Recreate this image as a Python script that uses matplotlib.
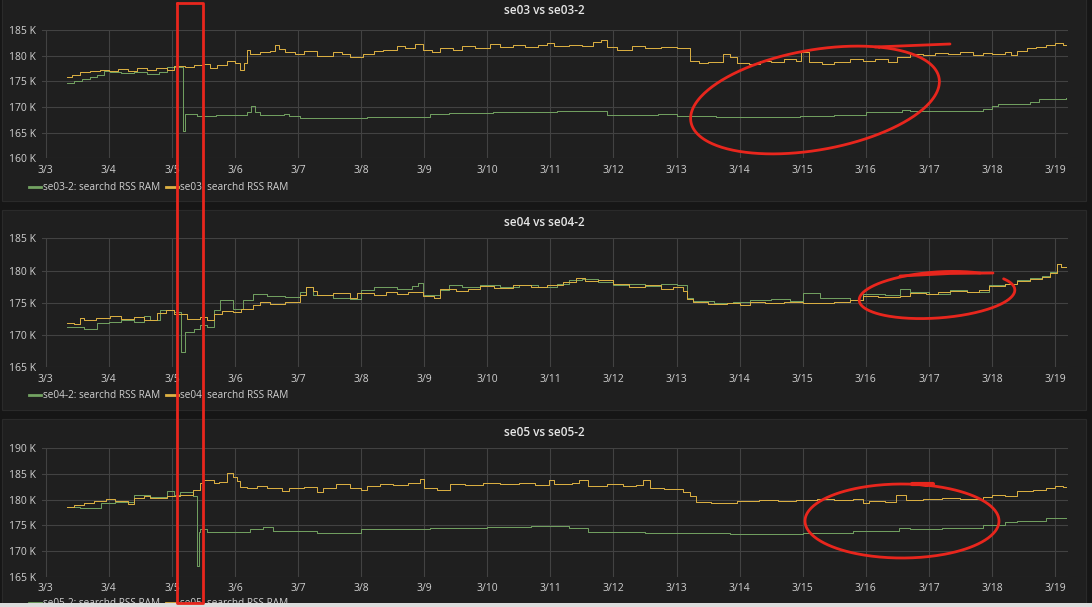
import numpy as np
import matplotlib
matplotlib.use("Agg")
import matplotlib.pyplot as plt
from matplotlib.patches import Rectangle
from matplotlib.lines import Line2D
from matplotlib.ticker import FuncFormatter

plt.rcParams['font.family'] = ['Open Sans', 'DejaVu Sans']

W, H = 1092, 607
GREEN = '#73a362'
YELLOW = '#deb243'
RED = '#e8261d'
TEXT = '#d0d0d0'

# x axis: days since 3/3 00:00
day_ticks = list(range(17))
day_labels = ["3/3", "3/4", "3/5", "3/6", "3/7", "3/8", "3/9", "3/10", "3/11",
              "3/12", "3/13", "3/14", "3/15", "3/16", "3/17", "3/18", "3/19"]

# (day, value in K) step change points
se03 = [(0.33, 175.8), (0.42, 176.3), (0.55, 176.9), (0.70, 177.1), (0.86, 177.3), (1.00, 177.0),
        (1.15, 177.4), (1.30, 177.1), (1.45, 177.5), (1.60, 177.2), (1.75, 177.6), (1.92, 177.3),
        (2.03, 178.0), (2.20, 177.7), (2.35, 178.1), (2.50, 178.3), (2.60, 177.6), (2.72, 178.2),
        (2.87, 178.9), (3.00, 178.6), (3.08, 177.3), (3.15, 178.5), (3.19, 181.2), (3.24, 180.4),
        (3.40, 180.7), (3.55, 181.0), (3.63, 182.0), (3.70, 181.3), (3.80, 180.8), (3.95, 180.4),
        (4.10, 180.9), (4.30, 179.9), (4.56, 180.7), (4.70, 180.3), (4.82, 179.7), (5.03, 180.4),
        (5.20, 180.9), (5.35, 181.2), (5.57, 181.8), (5.70, 181.4), (5.85, 182.2), (5.98, 181.1),
        (6.12, 180.7), (6.25, 181.5), (6.45, 181.2), (6.60, 181.8), (6.80, 181.4), (7.04, 182.3),
        (7.20, 181.7), (7.40, 182.1), (7.60, 181.6), (7.80, 182.0), (7.94, 182.5), (8.05, 181.8),
        (8.30, 182.1), (8.50, 181.8), (8.68, 182.6), (8.80, 183.1), (8.90, 181.7), (9.05, 181.2),
        (9.30, 181.8), (9.50, 181.4), (9.75, 181.7), (10.00, 181.5), (10.21, 178.9), (10.35, 178.5),
        (10.50, 178.8), (10.73, 180.4), (10.85, 179.8), (10.95, 178.6), (11.15, 178.3), (11.32, 179.0),
        (11.50, 178.8), (11.70, 179.3), (11.90, 179.0), (11.98, 180.8), (12.10, 178.8), (12.30, 178.4),
        (12.50, 178.7), (12.75, 179.3), (12.95, 178.9), (13.15, 179.4), (13.35, 178.8), (13.49, 179.8),
        (13.70, 180.4), (13.90, 180.1), (14.10, 180.6), (14.30, 180.3), (14.50, 180.7), (14.70, 180.2),
        (14.85, 180.6), (15.00, 180.4), (15.20, 180.7), (15.30, 180.1), (15.40, 181.0), (15.55, 181.4),
        (15.70, 181.7), (15.85, 182.0), (16.00, 182.5), (16.12, 182.1), (16.17, 182.1)]

se03_2 = [(0.33, 174.6), (0.45, 175.0), (0.58, 175.5), (0.70, 175.9), (0.82, 176.2), (0.92, 177.0),
          (1.02, 176.9), (1.20, 176.6), (1.40, 176.8), (1.60, 176.5), (1.80, 176.9), (1.92, 177.7),
          (2.17, 165.3), (2.21, 168.6), (2.40, 168.3), (2.70, 168.4), (3.00, 168.5), (3.19, 169.0),
          (3.25, 170.1), (3.32, 169.0), (3.40, 168.4), (3.77, 168.6), (3.85, 168.2), (4.03, 167.9),
          (5.10, 168.1), (6.09, 168.6), (6.40, 168.8), (7.09, 169.1), (8.10, 169.3), (8.58, 169.2),
          (8.90, 168.5), (9.30, 168.4), (9.70, 168.6), (10.00, 168.3), (10.63, 168.1), (11.95, 168.3),
          (12.50, 168.5), (13.00, 169.0), (13.58, 169.5), (13.70, 169.3), (14.85, 169.6), (15.00, 170.1),
          (15.10, 170.6), (15.60, 170.9), (15.75, 171.5), (16.17, 171.7)]

se04 = [(0.33, 171.9), (0.45, 171.7), (0.55, 172.6), (0.60, 172.3), (0.80, 172.6), (1.02, 172.9),
        (1.20, 172.5), (1.40, 172.8), (1.55, 172.4), (1.76, 173.4), (1.90, 173.9), (2.03, 173.2),
        (2.24, 172.5), (2.45, 172.8), (2.55, 172.4), (2.66, 173.2), (2.80, 173.8), (2.97, 173.6),
        (3.10, 174.0), (3.29, 174.6), (3.40, 175.1), (3.55, 174.8), (3.80, 175.1), (4.03, 176.2),
        (4.13, 177.4), (4.24, 176.8), (4.30, 176.2), (4.56, 176.5), (4.82, 175.7), (4.93, 176.5),
        (5.20, 176.2), (5.40, 176.6), (5.57, 176.3), (5.75, 176.7), (5.98, 176.0), (6.15, 175.8),
        (6.25, 177.2), (6.50, 176.9), (6.70, 177.2), (6.88, 177.6), (7.10, 177.3), (7.40, 177.7),
        (7.70, 177.4), (7.95, 177.7), (8.20, 178.2), (8.40, 178.9), (8.55, 178.4), (8.75, 178.6),
        (9.00, 177.9), (9.25, 177.5), (9.50, 177.8), (9.75, 177.2), (9.95, 177.4), (10.10, 176.9),
        (10.16, 175.6), (10.26, 175.2), (10.50, 174.8), (10.80, 175.0), (11.00, 174.7), (11.16, 175.1),
        (11.40, 174.9), (11.70, 175.2), (12.00, 175.0), (12.27, 175.0), (12.50, 175.1), (12.75, 175.5),
        (12.95, 176.1), (13.20, 175.9), (13.54, 176.0), (13.70, 176.5), (13.95, 176.3), (14.15, 176.6),
        (14.33, 176.9), (14.60, 176.6), (14.80, 177.0), (14.96, 177.6), (15.20, 177.9), (15.39, 178.4),
        (15.60, 178.7), (15.80, 179.0), (15.92, 179.6), (16.03, 181.0), (16.10, 180.6), (16.17, 180.6)]

se04_2 = [(0.33, 171.3), (0.60, 170.9), (0.82, 171.8), (1.00, 172.0), (1.20, 172.4), (1.40, 172.1),
          (1.55, 172.9), (1.65, 172.3), (1.81, 173.9), (2.03, 173.5), (2.15, 167.4), (2.21, 170.5),
          (2.35, 171.0), (2.45, 171.6), (2.55, 171.2), (2.66, 173.9), (2.77, 175.4), (2.97, 174.0),
          (3.13, 175.4), (3.29, 176.4), (3.50, 176.0), (3.80, 175.9), (4.03, 176.6), (4.13, 177.5),
          (4.24, 176.2), (4.56, 175.8), (4.82, 175.6), (4.99, 177.0), (5.20, 177.4), (5.35, 177.5),
          (5.57, 177.2), (5.80, 177.6), (5.90, 178.0), (5.98, 176.2), (6.25, 177.0), (6.40, 177.7),
          (6.60, 177.4), (6.88, 177.7), (7.20, 177.4), (7.50, 177.8), (7.80, 177.5), (8.10, 177.9),
          (8.30, 178.5), (8.50, 178.7), (8.75, 178.3), (9.00, 177.8), (9.25, 177.9), (9.50, 177.6),
          (9.75, 177.9), (10.00, 177.8), (10.16, 175.7), (10.26, 175.3), (10.60, 174.9), (10.90, 175.2),
          (11.16, 175.4), (11.50, 175.6), (11.80, 175.3), (12.00, 176.5), (12.27, 175.8), (12.75, 175.5),
          (12.95, 176.4), (13.30, 176.2), (13.54, 177.1), (13.70, 176.6), (14.00, 176.4), (14.33, 177.0),
          (14.60, 176.7), (14.96, 177.8), (15.20, 177.9), (15.39, 178.5), (15.60, 178.8), (15.80, 179.1),
          (15.92, 179.7), (16.03, 181.0), (16.10, 180.6), (16.17, 180.6)]

se05 = [(0.33, 178.6), (0.45, 179.0), (0.60, 179.3), (0.77, 179.8), (0.95, 180.1), (1.10, 179.8),
        (1.30, 179.1), (1.40, 180.3), (1.55, 180.7), (1.65, 180.3), (1.92, 180.8), (2.13, 181.0),
        (2.34, 181.9), (2.45, 183.2), (2.50, 183.8), (2.66, 183.2), (2.75, 183.5), (2.87, 185.1),
        (2.97, 184.4), (3.03, 183.6), (3.08, 182.5), (3.19, 182.3), (3.35, 182.6), (3.50, 182.2),
        (3.75, 181.7), (3.85, 182.3), (4.10, 182.5), (4.30, 181.4), (4.40, 182.3), (4.60, 183.0),
        (4.82, 182.2), (5.00, 181.9), (5.10, 182.6), (5.30, 183.0), (5.50, 182.8), (5.75, 183.2),
        (5.93, 184.0), (6.00, 182.2), (6.20, 181.9), (6.41, 183.0), (6.65, 182.8), (6.93, 183.2),
        (7.20, 183.0), (7.50, 183.2), (7.75, 182.9), (7.97, 183.8), (8.05, 183.1), (8.35, 183.3),
        (8.45, 183.8), (8.60, 182.7), (8.90, 183.0), (9.15, 182.6), (9.35, 182.9), (9.47, 183.8),
        (9.58, 182.3), (9.80, 182.1), (10.10, 181.5), (10.21, 180.8), (10.31, 179.6), (10.55, 179.4),
        (10.95, 179.8), (11.30, 180.0), (11.60, 179.7), (11.90, 180.0), (12.22, 180.2), (12.50, 180.0),
        (12.80, 180.2), (12.95, 179.4), (13.05, 179.8), (13.30, 179.6), (13.48, 180.9), (13.64, 180.0),
        (13.90, 180.1), (14.20, 180.3), (14.50, 180.1), (14.85, 180.6), (15.00, 181.0), (15.20, 180.8),
        (15.40, 181.6), (15.65, 181.9), (15.85, 182.2), (16.00, 182.6), (16.12, 182.4), (16.17, 182.4)]

se05_2 = [(0.33, 178.5), (0.55, 178.3), (0.88, 179.3), (1.10, 179.6), (1.40, 180.9), (1.65, 180.5),
          (1.92, 181.6), (2.03, 180.9), (2.13, 181.5), (2.34, 180.8), (2.40, 167.1), (2.43, 173.8),
          (2.45, 174.2), (2.55, 173.8), (3.24, 174.2), (3.45, 174.6), (3.60, 173.9), (4.30, 173.6),
          (5.00, 174.2), (6.09, 174.4), (7.00, 174.7), (7.70, 174.9), (8.30, 174.5), (8.60, 173.8),
          (9.50, 173.6), (10.84, 173.3), (12.00, 173.6), (12.80, 173.9), (13.53, 174.5), (13.70, 174.2),
          (14.20, 174.4), (14.85, 175.1), (15.20, 175.7), (15.40, 175.9), (15.85, 176.5), (16.17, 176.5)]

panels = [
    dict(title="se03 vs se03-2", green=("se03-2: searchd RSS RAM", se03_2),
         yellow=("se03: searchd RSS RAM", se03), yticks=[160, 165, 170, 175, 180, 185]),
    dict(title="se04 vs se04-2", green=("se04-2: searchd RSS RAM", se04_2),
         yellow=("se04: searchd RSS RAM", se04), yticks=[165, 170, 175, 180, 185]),
    dict(title="se05 vs se05-2", green=("se05-2: searchd RSS RAM", se05_2),
         yellow=("se05: searchd RSS RAM", se05), yticks=[165, 170, 175, 180, 185, 190]),
]

# layout in screenshot pixels
panel_boxes = [(-6, 201), (210, 410), (419, 612)]
plot_boxes = [(30.0, 158.3), (238.3, 367.3), (448.3, 576.7)]
title_y = [11, 222, 432]
legend_y = [188, 396, 604]
PLOT_L, PLOT_R = 41.5, 1067.7


def fx(x):
    return x / W


def fy(y):
    return 1 - y / H


fig = plt.figure(figsize=(W / 100, H / 100), dpi=100)
fig.patch.set_facecolor('#161616')

for (top, bot) in panel_boxes:
    fig.patches.append(Rectangle((fx(2), fy(bot)), fx(1086) - fx(2), fy(top) - fy(bot),
                                 transform=fig.transFigure, facecolor='#1f1f1f',
                                 edgecolor='#2a2a2a', lw=0.8, zorder=-5))

for i, p in enumerate(panels):
    top, bot = plot_boxes[i]
    ax = fig.add_axes([fx(PLOT_L), fy(bot), fx(PLOT_R) - fx(PLOT_L), (bot - top) / H])
    ax.set_zorder(1)
    ax.set_facecolor('none')
    for name, data, col in [(p['green'][0], p['green'][1], GREEN),
                            (p['yellow'][0], p['yellow'][1], YELLOW)]:
        t = [d[0] for d in data]
        v = [d[1] for d in data]
        ax.plot(t, v, drawstyle='steps-post', color=col, lw=0.7, label=name)
    ax.set_xlim(-0.067, 16.2)
    ax.set_ylim(p['yticks'][0], p['yticks'][-1])
    ax.set_xticks(day_ticks)
    ax.set_xticklabels(day_labels)
    ax.set_yticks(p['yticks'])
    ax.yaxis.set_major_formatter(FuncFormatter(lambda v, pos: f"{v:.0f} K"))
    ax.grid(True, color='#424242', lw=0.8)
    ax.set_axisbelow(True)
    for s in ax.spines.values():
        s.set_visible(False)
    ax.tick_params(length=0, colors=TEXT, labelsize=7.5)
    ax.tick_params(axis='x', pad=4.5)
    ax.tick_params(axis='y', pad=4)

    fig.text(fx(544), fy(title_y[i]), p['title'], ha='center', va='center',
             color='#e6e6e6', fontsize=8.5, fontweight='semibold')
    leg = ax.legend(loc='center left', bbox_to_anchor=(fx(29), fy(legend_y[i])),
                    bbox_transform=fig.transFigure, ncol=2, frameon=False,
                    fontsize=7.2, labelcolor=TEXT, handlelength=1.15, handletextpad=0.25,
                    columnspacing=0.6, borderpad=0, borderaxespad=0)
    for h in leg.get_lines():
        h.set_linewidth(2)

# light strip at the very bottom of the screenshot
fig.patches.append(Rectangle((0, 0), 1, fy(603.3), transform=fig.transFigure,
                             facecolor='#dcdcdc', edgecolor='none', zorder=15))


# red hand-drawn annotations
def stroke(xs, ys, lw=2.0):
    fig.add_artist(Line2D([fx(x) for x in xs], [fy(y) for y in ys], transform=fig.transFigure,
                          color=RED, lw=lw, zorder=20, solid_capstyle='round',
                          solid_joinstyle='round'))


def ellipse(cx, cy, a, b, phi, t0, t1):
    t = np.radians(np.linspace(t0, t1, 300))
    ph = np.radians(phi)
    xs = cx + a * np.cos(t) * np.cos(ph) - b * np.sin(t) * np.sin(ph)
    ys = cy + a * np.cos(t) * np.sin(ph) + b * np.sin(t) * np.cos(ph)
    stroke(xs, ys)


stroke([177, 202.5, 202.5, 177, 177], [2.5, 2.5, 602.5, 602.5, 2.5])

ellipse(815, 100, 126, 50, -10, -55, -415)
stroke([875, 950], [47, 44])

ellipse(937, 295, 78, 23, -4, -55, -390)
stroke([993, 950, 900], [273, 273.5, 276])

ellipse(902, 521, 97, 37, 0, -80, 285)
stroke([912, 933], [483.5, 483.5], lw=3)

fig.savefig('out.png', dpi=100, facecolor=fig.get_facecolor())
